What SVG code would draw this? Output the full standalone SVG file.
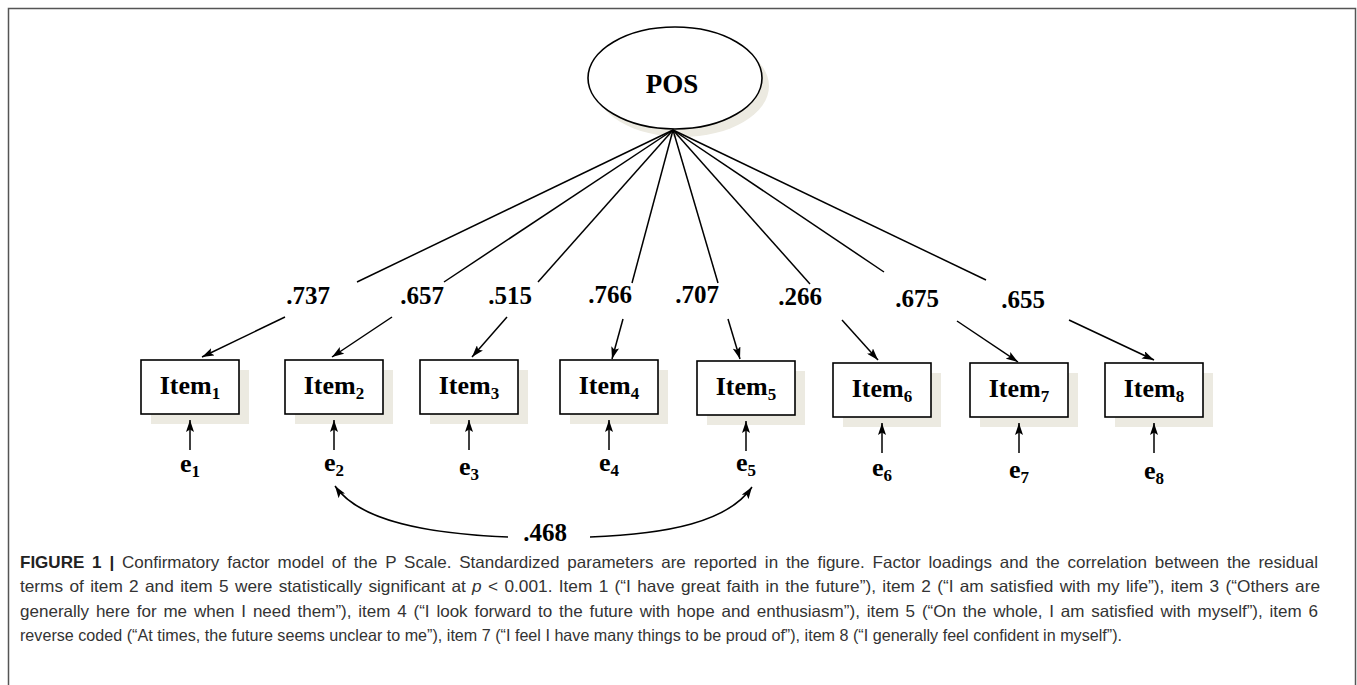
<svg xmlns="http://www.w3.org/2000/svg" width="1357" height="685" viewBox="0 0 1357 685">
<style>
.frame{fill:#fff;stroke:#555;stroke-width:1.5}
.box{fill:#fff;stroke:#000;stroke-width:1.6}
.shadow{fill:#ECEAE1;stroke:none}
.lbl{font-family:"Liberation Serif","Times New Roman",serif;font-weight:bold;fill:#000}
.item{font-size:26px;text-anchor:middle}
.sub{font-size:17px}
.err{font-size:26px;text-anchor:middle}
.load{font-size:25px;text-anchor:middle}
.path{fill:none;stroke:#000;stroke-width:1.5}
.cap{font-family:"Liberation Sans",Arial,sans-serif;font-size:16.5px;fill:#333}
.capb{font-weight:bold;fill:#222}
</style>
<defs>
<marker id="ah" viewBox="0 0 12 8" refX="12" refY="4" markerWidth="12" markerHeight="8" markerUnits="userSpaceOnUse" orient="auto">
<path d="M0,0 L12,4 L0,8 L2.5,4 z" fill="#000"/>
</marker>
</defs>
<rect class="frame" x="8.5" y="8.5" width="1347" height="700"/>

<g id="POS">
<ellipse class="shadow" cx="682" cy="86" rx="87" ry="51"/>
<ellipse cx="675" cy="78" rx="87" ry="51" fill="#fff" stroke="#000" stroke-width="1.6"/>
<text class="lbl" x="672" y="93" font-size="27" text-anchor="middle">POS</text>
</g>

<g id="Item1"><rect class="shadow" x="151" y="370" width="98" height="54"/><rect class="box" x="141" y="360" width="98" height="54"/><text class="lbl item" x="190" y="394">Item<tspan class="sub" dy="5">1</tspan></text></g>
<g id="Item2"><rect class="shadow" x="295" y="370" width="98" height="54"/><rect class="box" x="285" y="360" width="98" height="54"/><text class="lbl item" x="334" y="394">Item<tspan class="sub" dy="5">2</tspan></text></g>
<g id="Item3"><rect class="shadow" x="430" y="370" width="98" height="54"/><rect class="box" x="420" y="360" width="98" height="54"/><text class="lbl item" x="469" y="394">Item<tspan class="sub" dy="5">3</tspan></text></g>
<g id="Item4"><rect class="shadow" x="570" y="370" width="98" height="54"/><rect class="box" x="560" y="360" width="98" height="54"/><text class="lbl item" x="609" y="394">Item<tspan class="sub" dy="5">4</tspan></text></g>
<g id="Item5"><rect class="shadow" x="707" y="371" width="98" height="54"/><rect class="box" x="697" y="361" width="98" height="54"/><text class="lbl item" x="746" y="395">Item<tspan class="sub" dy="5">5</tspan></text></g>
<g id="Item6"><rect class="shadow" x="843" y="373" width="98" height="54"/><rect class="box" x="833" y="363" width="98" height="54"/><text class="lbl item" x="882" y="397">Item<tspan class="sub" dy="5">6</tspan></text></g>
<g id="Item7"><rect class="shadow" x="980" y="373" width="98" height="54"/><rect class="box" x="970" y="363" width="98" height="54"/><text class="lbl item" x="1019" y="397">Item<tspan class="sub" dy="5">7</tspan></text></g>
<g id="Item8"><rect class="shadow" x="1115" y="373" width="98" height="54"/><rect class="box" x="1105" y="363" width="98" height="54"/><text class="lbl item" x="1154" y="397">Item<tspan class="sub" dy="5">8</tspan></text></g>

<g id="e1"><text class="lbl err" x="190" y="472">e<tspan class="sub" dy="5">1</tspan></text></g>
<g id="e2"><text class="lbl err" x="334" y="471">e<tspan class="sub" dy="5">2</tspan></text></g>
<g id="e3"><text class="lbl err" x="469" y="475">e<tspan class="sub" dy="5">3</tspan></text></g>
<g id="e4"><text class="lbl err" x="609" y="471">e<tspan class="sub" dy="5">4</tspan></text></g>
<g id="e5"><text class="lbl err" x="746" y="471">e<tspan class="sub" dy="5">5</tspan></text></g>
<g id="e6"><text class="lbl err" x="882" y="476">e<tspan class="sub" dy="5">6</tspan></text></g>
<g id="e7"><text class="lbl err" x="1019" y="478">e<tspan class="sub" dy="5">7</tspan></text></g>
<g id="e8"><text class="lbl err" x="1154" y="479">e<tspan class="sub" dy="5">8</tspan></text></g>

<g id="connectors">
<line class="path" x1="673" y1="130" x2="357" y2="282"/>
<line class="path" x1="285" y1="317" x2="202" y2="357" marker-end="url(#ah)"/>
<line class="path" x1="673" y1="130" x2="444" y2="282"/>
<line class="path" x1="392" y1="317" x2="332" y2="357" marker-end="url(#ah)"/>
<line class="path" x1="673" y1="130" x2="538" y2="282"/>
<line class="path" x1="507" y1="317" x2="472" y2="357" marker-end="url(#ah)"/>
<line class="path" x1="673" y1="130" x2="632" y2="283"/>
<line class="path" x1="623" y1="319" x2="612" y2="359" marker-end="url(#ah)"/>
<line class="path" x1="673" y1="130" x2="718" y2="283"/>
<line class="path" x1="728" y1="319" x2="740" y2="359" marker-end="url(#ah)"/>
<line class="path" x1="673" y1="130" x2="810" y2="284"/>
<line class="path" x1="842" y1="320" x2="878" y2="360" marker-end="url(#ah)"/>
<line class="path" x1="673" y1="130" x2="884" y2="272"/>
<line class="path" x1="957" y1="321" x2="1018" y2="362" marker-end="url(#ah)"/>
<line class="path" x1="673" y1="130" x2="986" y2="280"/>
<line class="path" x1="1069" y1="320" x2="1154" y2="360" marker-end="url(#ah)"/>

<line class="path" x1="190" y1="450" x2="190" y2="420" marker-end="url(#ah)"/>
<line class="path" x1="334" y1="450" x2="334" y2="420" marker-end="url(#ah)"/>
<line class="path" x1="469" y1="450" x2="469" y2="420" marker-end="url(#ah)"/>
<line class="path" x1="609" y1="450" x2="609" y2="420" marker-end="url(#ah)"/>
<line class="path" x1="746" y1="451" x2="746" y2="421" marker-end="url(#ah)"/>
<line class="path" x1="882" y1="453" x2="882" y2="423" marker-end="url(#ah)"/>
<line class="path" x1="1019" y1="453" x2="1019" y2="423" marker-end="url(#ah)"/>
<line class="path" x1="1154" y1="453" x2="1154" y2="423" marker-end="url(#ah)"/>

<path class="path" d="M508,537 C430,534 360,522 335,486" marker-end="url(#ah)"/>
<path class="path" d="M590,537 C668,534 728,522 752,487" marker-end="url(#ah)"/>
</g>

<g id="labels">
<text class="lbl load" x="308" y="304">.737</text>
<text class="lbl load" x="422" y="304">.657</text>
<text class="lbl load" x="510" y="304">.515</text>
<text class="lbl load" x="610" y="303">.766</text>
<text class="lbl load" x="697" y="303">.707</text>
<text class="lbl load" x="800" y="305">.266</text>
<text class="lbl load" x="917" y="307">.675</text>
<text class="lbl load" x="1023" y="308">.655</text>
<text class="lbl load" x="545" y="541">.468</text>
</g>

<g id="caption">
<text class="cap" x="20" y="568" word-spacing="3" textLength="1298" lengthAdjust="spacingAndGlyphs"><tspan class="capb">FIGURE 1 |</tspan> Confirmatory factor model of the P Scale. Standardized parameters are reported in the figure. Factor loadings and the correlation between the residual</text>
<text class="cap" x="20" y="592" word-spacing="1.5" textLength="1300" lengthAdjust="spacingAndGlyphs">terms of item 2 and item 5 were statistically significant at <tspan font-style="italic">p</tspan> &lt; 0.001. Item 1 (“I have great faith in the future”), item 2 (“I am satisfied with my life”), item 3 (“Others are</text>
<text class="cap" x="20" y="617" word-spacing="2" textLength="1298" lengthAdjust="spacingAndGlyphs">generally here for me when I need them”), item 4 (“I look forward to the future with hope and enthusiasm”), item 5 (“On the whole, I am satisfied with myself”), item 6</text>
<text class="cap" x="20" y="641" textLength="1102" lengthAdjust="spacingAndGlyphs">reverse coded (“At times, the future seems unclear to me”), item 7 (“I feel I have many things to be proud of”), item 8 (“I generally feel confident in myself”).</text>
</g>
</svg>
